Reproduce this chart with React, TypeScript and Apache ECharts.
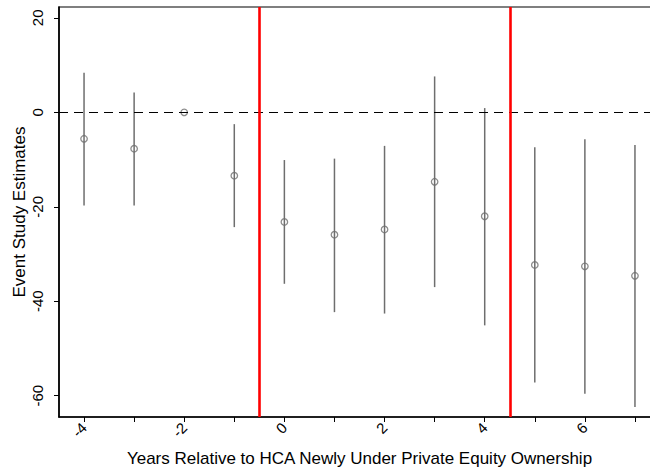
import React, { useEffect, useRef } from "react";
import * as echarts from "echarts";

const years = [-4, -3, -2, -1, 0, 1, 2, 3, 4, 5, 6, 7];
const estimates = [-5.6, -7.7, 0, -13.4, -23.2, -25.9, -24.8, -14.7, -22.0, -32.3, -32.6, -34.6];
const ciLower = [-19.7, -19.7, null, -24.3, -36.3, -42.3, -42.6, -37.0, -45.1, -57.2, -59.6, -62.4];
const ciUpper = [8.4, 4.2, null, -2.5, -10.1, -9.8, -7.1, 7.6, 0.9, -7.4, -5.7, -6.9];
const xTickValues = [-4, -3, -2, -1, 0, 1, 2, 3, 4, 5, 6, 7];
const xLabelValues = [-4, -2, 0, 2, 4, 6];
const yTickValues = [-60, -40, -20, 0, 20];
const eventLines = [-0.5, 4.5];
const referenceLine = 0;

const xTitle = "Years Relative to HCA Newly Under Private Equity Ownership";
const yTitle = "Event Study Estimates";

export default function App() {
  const ref = useRef<HTMLDivElement>(null);

  useEffect(() => {
    if (!ref.current) return;
    const chart = echarts.init(ref.current, undefined, { renderer: "svg" });
    const font = "'Liberation Sans', Arial, Helvetica, sans-serif";

    const ciData = years
      .map((y, i) => [y, ciLower[i], ciUpper[i]])
      .filter((d) => d[1] !== null && d[2] !== null);
    const pointData = years.map((y, i) => [y, estimates[i]]);

    chart.setOption({
      animation: false,
      backgroundColor: "#fff",
      grid: {
        left: 59,
        right: -10,
        top: 7,
        bottom: 56,
        containLabel: false,
        outerBoundsMode: "none",
        show: true,
        borderColor: "#000",
        borderWidth: 1.2,
        backgroundColor: "transparent",
      },
      xAxis: {
        type: "value",
        min: -4.5,
        max: 7.5,
        name: xTitle,
        nameLocation: "middle",
        nameGap: 33,
        nameMoveOverlap: false,
        nameTextStyle: { fontFamily: font, fontSize: 17, color: "#000" },
        axisLine: { show: true, onZero: false, lineStyle: { color: "#000", width: 1.6 } },
        axisTick: {
          show: true,
          length: 5,
          customValues: xTickValues,
          lineStyle: { color: "#000", width: 1 },
        },
        axisLabel: {
          customValues: xLabelValues,
          rotate: 45,
          margin: 8,
          fontFamily: font,
          fontSize: 15,
          color: "#000",
        },
        splitLine: { show: false },
      },
      yAxis: {
        type: "value",
        min: -64.5,
        max: 22.3,
        name: yTitle,
        nameLocation: "middle",
        nameGap: 31,
        nameMoveOverlap: false,
        nameTextStyle: { fontFamily: font, fontSize: 17, color: "#000" },
        axisLine: { show: true, onZero: false, lineStyle: { color: "#000", width: 1.6 } },
        axisTick: {
          show: true,
          length: 5,
          customValues: yTickValues,
          lineStyle: { color: "#000", width: 1 },
        },
        axisLabel: {
          customValues: yTickValues,
          rotate: 90,
          margin: 14,
          fontFamily: font,
          fontSize: 15,
          color: "#000",
        },
        splitLine: { show: false },
      },
      series: [
        {
          type: "custom",
          data: ciData,
          encode: { x: 0, y: [1, 2] },
          renderItem: (params: any, api: any) => {
            const x = api.value(0);
            const p1 = api.coord([x, api.value(1)]);
            const p2 = api.coord([x, api.value(2)]);
            return {
              type: "line",
              shape: { x1: p1[0], y1: p1[1], x2: p2[0], y2: p2[1] },
              style: { stroke: "#6e6e6e", lineWidth: 1.5 },
            };
          },
          z: 3,
        },
        {
          type: "scatter",
          data: pointData,
          symbol: "circle",
          symbolSize: 6.5,
          itemStyle: { color: "rgba(0,0,0,0)", borderColor: "#6e6e6e", borderWidth: 1.3 },
          z: 4,
          markLine: {
            silent: true,
            symbol: ["none", "none"],
            label: { show: false },
            data: [
              { yAxis: referenceLine, lineStyle: { color: "#000", width: 1, type: [9, 6] } },
              ...eventLines.map((v) => ({
                xAxis: v,
                lineStyle: { color: "#ff0000", width: 2.6, type: "solid" },
              })),
            ],
          },
        },
      ],
    });

    return () => chart.dispose();
  }, []);

  return (
    <div
      ref={ref}
      style={{ position: "fixed", left: 0, top: 0, width: 650, height: 473, background: "#fff" }}
    />
  );
}
